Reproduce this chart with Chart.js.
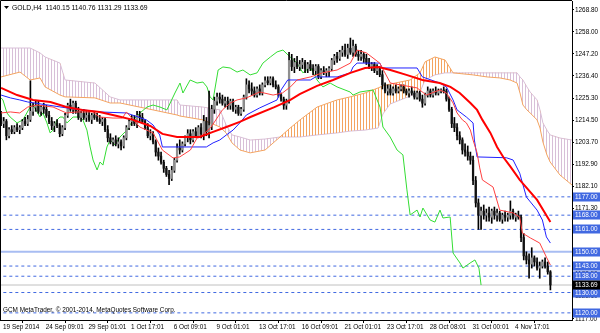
<!DOCTYPE html>
<html><head><meta charset="utf-8">
<script src="https://cdn.jsdelivr.net/npm/chart.js@4/dist/chart.umd.min.js"></script>
<style>html,body{margin:0;padding:0;background:#fff;}#wrap{width:600px;height:333px;position:relative;}</style>
</head><body><div id="wrap"><canvas id="c" width="600" height="333"></canvas></div>
<script>
// ---------- data ----------
const titleText = 'GOLD,H4  1140.15 1140.76 1131.29 1133.69';
const copyrightText = 'GCM MetaTrader, \u00A9 2001-2014, MetaQuotes Software Corp.';
const xTickBars = [0,16,32,48,64,80,96,112,128,144,160,176,192];
const xTickLabels = ['19 Sep 2014','24 Sep 09:01','29 Sep 01:01','1 Oct 17:01','6 Oct 09:01','9 Oct 01:01','13 Oct 17:01','16 Oct 09:01','21 Oct 01:01','23 Oct 17:01','28 Oct 08:01','31 Oct 00:01','4 Nov 17:01'];
const yTickValues = [1268.80,1258.00,1247.20,1236.40,1225.30,1214.50,1203.70,1192.90,1182.10,1171.30,1160.50,1149.70,1138.90,1128.10,1117.00];
const dashedLevels = [1177.00,1168.00,1161.00,1143.00,1138.00,1130.00,1120.00];
const solidLevel = 1150.00;
const lastPrice = 1133.69;

const opens = [1216,1213,1214,1207,1210,1209,1211,1210,1211,1214,1213,
1215,1219,1221,1222,1219,1221,1220,1217,1214,1212,
1213,1212,1208,1211,1217,1222,1220,1223,1219,1216,
1218,1216,1217,1215,1217,1216,1215,1214,1215,1210,
1206,1204,1205,1203,1204,1202,1206,1211,1214,1215,
1213,1217,1216,1214,1211,1207,1208,1204,1199,1197,
1194,1191,1188,1186,1190,1195,1201,1200,1203,1206,
1208,1205,1209,1207,1211,1208,1214,1209,1212,1220,
1224,1226,1225,1223,1224,1222,1224,1220,1221,1218,
1220,1226,1232,1230,1229,1227,1230,1228,1232,1234,
1233,1235,1232,1231,1227,1225,1222,1224,1244,1241,
1243,1241,1242,1243,1240,1242,1240,1239,1241,1236,
1239,1238,1239,1240,1244,1246,1245,1248,1249,1247,
1250,1248,1251,1247,1246,1247,1245,1243,1241,1242,
1239,1240,1237,1232,1229,1230,1228,1230,1229,1230,
1231,1229,1228,1229,1228,1226,1228,1225,1223,1227,
1229,1227,1229,1228,1229,1229.5,1229,1225,1220,1213,
1211,1207,1205,1200,1199,1197,1195,1185,1174,1168,
1170,1168,1169,1167,1170,1168,1169,1166,1168,1167,
1168,1170,1167,1168,1167,1157,1148,1146,1144,1147,
1145,1142,1143,1145,1143,1140.15];
const highs = [1219,1216,1215,1211,1212,1212,1213,1212,1215,1216,1217,
1234,1223,1224,1224,1222,1223,1222,1219,1216,1214,
1215,1213,1212,1218,1223,1225,1224,1224,1221,1219,
1220,1219,1219,1218,1219,1218,1217,1216,1216,1212,
1208,1206,1207,1206,1205,1207,1212,1215,1217,1217,
1219,1219,1218,1215,1213,1210,1209,1205,1201,1199,
1195,1192,1190,1192,1196,1203,1205,1204,1207,1210,
1210,1210,1211,1212,1213,1217,1216,1229,1222,1226,
1228,1228,1227,1226,1226,1225,1225,1222,1222,1221,
1227,1235,1234,1233,1231,1231,1232,1233,1236,1236,
1236,1236,1234,1232,1228,1226,1225,1248,1247,1245,
1246,1244,1245,1244,1243,1244,1242,1242,1242,1240,
1241,1240,1241,1245,1247,1248,1249,1251,1252,1252,
1255,1254,1252,1249,1249,1248,1247,1245,1243,1243,
1242,1241,1239,1233,1232,1232,1231,1232,1231,1232,
1232,1230,1230,1231,1229,1229,1229,1227,1228,1231,
1230,1230,1231,1230,1230,1231,1230,1226,1221,1216,
1213,1209,1206,1203,1202,1199,1197,1187,1176,1172,
1173,1171,1172,1171,1172,1171,1170,1169,1170,1169,
1175,1171,1169,1170,1168,1159,1150,1149,1152,1148,
1147,1145,1146,1147,1145,1140.76];
const lows = [1212,1211,1205,1206,1208,1208,1209,1208,1210,1212,1212,
1214,1217,1219,1218,1217,1218,1216,1213,1210,1209,
1211,1206.5,1207,1210,1216,1219,1218,1218,1215,1214,
1215,1214,1214,1213,1215,1214,1213,1212,1209,1204,
1203,1202,1202,1201,1200,1201,1205,1210,1212,1212,
1211,1214,1213,1210,1206,1205,1203,1197,1195,1193,
1189,1187,1183,1185,1189,1194,1198,1199,1202,1204,
1203,1204,1206,1206,1206,1205,1207,1206,1210,1218,
1222,1223,1222,1221,1220,1220,1219,1218,1217,1217,
1219,1225,1228,1227,1226,1226,1227,1227,1231,1232,
1232,1231,1230,1226,1224,1220,1220,1223,1239,1238,
1240,1239,1240,1238,1238,1239,1237,1237,1235,1235,
1237,1236,1236,1239,1242,1243,1244,1246,1246,1245,
1247,1246,1246,1244,1244,1243,1242,1240,1239,1238,
1237,1236,1230,1228,1227,1227,1227,1228,1228,1229,
1228,1227,1226,1227,1225,1225,1224,1221,1222,1226,
1226,1226,1227,1227,1228,1228,1224,1219,1211,1209,
1205,1203,1198,1197,1195,1193,1183,1172,1161,1161,
1166,1165,1165,1164,1166,1165,1165,1164,1165,1165,
1166,1166,1165,1166,1155,1146,1144,1137,1142,1143,
1141,1137,1142,1142,1139,1131.29];
const closes = [1213,1214,1207,1210,1209,1211,1210,1211,1214,1213,1215,
1219,1221,1222,1219,1221,1220,1217,1214,1212,1213,
1212,1208,1211,1217,1222,1220,1223,1219,1216,1218,
1216,1217,1215,1217,1216,1215,1214,1215,1210,1206,
1204,1205,1203,1204,1202,1206,1211,1214,1215,1213,
1217,1216,1214,1211,1207,1208,1204,1199,1197,1194,
1191,1188,1186,1190,1195,1201,1200,1203,1206,1208,
1205,1209,1207,1211,1208,1214,1209,1212,1220,1224,
1226,1225,1223,1224,1222,1224,1220,1221,1218,1220,
1226,1232,1230,1229,1227,1230,1228,1232,1234,1233,
1235,1232,1231,1227,1225,1222,1224,1244,1241,1243,
1241,1242,1243,1240,1242,1240,1239,1241,1236,1239,
1238,1239,1240,1244,1246,1245,1248,1249,1247,1250,
1248,1251,1247,1246,1247,1245,1243,1241,1242,1239,
1240,1237,1232,1229,1230,1228,1230,1229,1230,1231,
1229,1228,1229,1228,1226,1228,1225,1223,1227,1229,
1227,1229,1228,1229,1229.5,1229,1225,1220,1213,1211,
1207,1205,1200,1199,1197,1195,1185,1174,1168,1170,
1168,1169,1167,1170,1168,1169,1166,1168,1167,1168,
1170,1167,1168,1167,1157,1148,1146,1144,1147,1145,
1142,1143,1145,1143,1140.15,1133.69];

// moving average (thick red)
const maBars = [0,6,12,18.5,24.5,30.5,37,43.5,49.5,56,60.5,66,74.5,79.5,84.5,89.5,93.5,102.5,108.5,112,118.5,124.5,131,136.5,141.5,146,152,158,164.5,168.5,172,176,178.5,180.5,183.5,186,188.5,191,194.5,201,206];
const maValues = [1230.5,1227.0,1224.6,1223.6,1221.1,1219.7,1218.7,1216.7,1214.8,1211.8,1207.9,1206.4,1206.4,1208.9,1211.3,1213.8,1216.2,1221.1,1224.6,1227.5,1231.5,1234.4,1237.9,1240.3,1240.8,1239.3,1236.9,1234.4,1232.9,1231.0,1228.0,1223.1,1219.7,1214.8,1208.4,1201.5,1196.2,1191.8,1185.3,1175.5,1164.6];
// Ichimoku: Tenkan-sen (thin red)
const tenkanBars = [0,3.5,7,10,13.5,19.5,24.5,28.5,34.5,37,42,45.5,47,52,57,60.5,64.5,67,71,73.5,75.5,78.5,81,83,86,88.5,92,97,102,105.5,108.5,111,116,120.5,126,131,133.5,137,142,146,156,159.5,164.5,167,169.5,171,173,174.5,176,177,178.5,179.5,180.5,184.5,187,192,194.5,195.5,198.5,202,204.5,206];
const tenkanValues = [1218.2,1218.7,1218.2,1221.1,1222.1,1221.1,1218.2,1218.7,1218.7,1216.2,1215.7,1215.7,1218.7,1211.3,1208.4,1200.0,1196.1,1196.6,1200.0,1205.9,1207.4,1210.8,1215.7,1219.7,1223.1,1224.6,1225.6,1228.5,1227.0,1228.0,1231.0,1234.4,1235.9,1237.9,1239.3,1242.7,1249.1,1247.7,1242.7,1232.9,1230.5,1227.0,1229.5,1228.0,1223.1,1218.2,1214.8,1213.3,1209.8,1204.9,1198.6,1191.2,1185.3,1181.8,1170.5,1169.1,1167.1,1159.2,1156.8,1154.3,1147.4,1143.5];
// Ichimoku: Kijun-sen (blue)
const kijunBars = [0,3.5,7,10,24.5,37,47,54.5,57,59.5,60.5,77,79.5,82,84.5,87,89.5,92,97,103.5,105,107.5,116,118,126,131,132,133.5,142,143,156,158,164.5,167,169.5,171,172,174.5,177,177.5,178.5,189.5,192,194.5,197,201,203,204.5,206];
const kijunValues = [1227.0,1225.6,1224.6,1223.6,1220.7,1218.7,1218.2,1214.8,1212.3,1207.4,1201.5,1201.5,1203.5,1204.9,1207.4,1209.8,1213.3,1217.2,1220.7,1224.6,1229.5,1234.4,1234.4,1235.9,1235.9,1237.9,1240.8,1242.7,1242.7,1240.3,1240.3,1235.9,1232.9,1231.0,1224.6,1219.7,1218.7,1216.2,1213.3,1204.9,1196.6,1196.2,1195.1,1188.6,1176.9,1170.5,1165.6,1157.3,1154.3];
// Ichimoku: Chikou span (green)
const chikouBars = [0,0.7,2.2,3.4,6,8.2,10.9,12,14.6,15.7,17.2,18.4,19.5,21,22.1,23.2,24.7,27,29.6,30.7,32.2,33.4,34.5,36,37.1,38.2,39.7,40.9,42.7,44.6,47.2,49.5,52.1,54.7,57,59.6,62.2,65.2,67.1,68.2,70.9,73.5,75.7,77.2,78.4,79.5,81.4,83.2,85.9,88.5,90.7,93.4,96,98.2,101,103.5,105.7,108.4,111,113.2,115.9,118.5,120.7,123.4,126,130.9,132,134.6,139.5,142.1,143.2,145.9,148.5,150.7,152.2,153.4,156,157.1,158.2,160.9,162.7,164.6,165.7,168.4,169.5,172.1,173.2,175.9,177.7,179.2,180];
const chikouValues = [1225.6,1224.6,1218.2,1216.2,1213.3,1214.8,1221.1,1222.1,1216.2,1218.2,1213.3,1208.4,1209.8,1214.8,1216.2,1216.2,1213.3,1216.2,1216.2,1214.8,1209.8,1201.5,1195.1,1190.2,1194.1,1192.6,1201.5,1204.9,1202.5,1206.4,1209.8,1214.8,1218.2,1221.1,1222.1,1221.1,1219.7,1228.0,1232.9,1228.0,1234.4,1232.9,1233.4,1231.0,1226.1,1224.6,1239.3,1240.8,1240.3,1238.3,1239.3,1236.9,1237.9,1242.7,1245.7,1248.2,1249.1,1245.7,1242.7,1237.9,1240.8,1234.4,1231.0,1232.9,1231.0,1228.5,1227.0,1228.5,1229.5,1221.1,1211.3,1206.4,1200.0,1197.6,1180.4,1168.1,1170.5,1167.1,1171.5,1165.6,1164.6,1170.5,1166.6,1167.1,1149.4,1144.5,1142.0,1144.5,1146.0,1142.0,1133.69];
// Ichimoku cloud: Senkou span A / B
const cloudBars = [0,7.1,10.9,14.6,16.5,22.1,24,35.2,40.9,44.6,57,66,67.1,75.7,82.1,84.4,86.6,89.6,93.4,99,104.6,108.4,112.1,118.5,126,130.9,136.5,141.4,143.2,145.9,153.4,157.1,159,162.7,166.5,169.5,177,182.2,187.1,190.9,193.5,194.6,195.7,197.2,198.4,201,202.1,203.2,204.7,205.9,209.6,214.1];
const spanA = [1235.9,1238.3,1234.4,1235.4,1231.0,1227.0,1226.1,1225.6,1223.1,1223.1,1219.7,1217.2,1216.7,1214.8,1211.3,1208.4,1203.5,1200.0,1198.6,1200.0,1206.4,1210.8,1214.8,1221.1,1224.6,1226.1,1228.0,1230.5,1231.5,1232.4,1234.4,1237.9,1243.3,1245.7,1244.2,1237.9,1236.9,1235.9,1235.4,1234.4,1232.9,1228.0,1222.1,1219.7,1218.2,1214.8,1210.8,1203.9,1197.6,1194.1,1187.7,1182.8];
const spanB = [1250.1,1250.1,1250.1,1247.7,1245.7,1242.7,1234.4,1232.9,1226.1,1224.6,1224.6,1224.6,1222.1,1221.1,1219.7,1212.3,1207.4,1206.4,1204.9,1205.4,1206.4,1206.4,1206.4,1207.4,1208.4,1209.3,1209.8,1210.8,1217.7,1222.6,1226.5,1228.5,1234.4,1236.9,1237.9,1237.9,1237.9,1237.9,1237.9,1237.9,1237.9,1235.9,1234.4,1231.0,1228.5,1224.6,1219.7,1213.3,1209.8,1207.4,1205.9,1204.9];

// ---------- chart ----------
const FONT = '"Liberation Sans", Arial, sans-serif';
const FSIZE = 6.4;
const canvas = document.getElementById('c');
const ctx = canvas.getContext('2d');

function hatch(color){
  const c = document.createElement('canvas'); c.width = 3; c.height = 4;
  const g = c.getContext('2d'); g.fillStyle = color; g.fillRect(0,0,1,4);
  return ctx.createPattern(c,'repeat');
}
const pts = (xs, ys) => xs.map((x,i)=>({x:x, y:ys[i]}));
const XMIN = -0.4, XMAX = 214.1;

const wickData = highs.map((h,i)=>({x:i, y:[lows[i], h]}));
const bodyData = opens.map((o,i)=>({x:i, y:[Math.min(o,closes[i]), Math.max(o,closes[i]) + (o===closes[i]?0.3:0)]}));
const bodyColors = opens.map((o,i)=> closes[i] > o ? '#8f8f8f' : '#111111');

const lvlDS = (v, color, width, dash, order) => ({type:'line', data:[{x:XMIN-1,y:v},{x:XMAX+1,y:v}], borderColor:color, borderWidth:width, borderDash:dash, pointRadius:0, fill:false, order:order});

const datasets = [
  {type:'line', label:'spanB', data:pts(cloudBars, spanB), borderColor:'#D8BFD8', borderWidth:1, pointRadius:0, fill:false, order:20},
  {type:'line', label:'spanA', data:pts(cloudBars, spanA), borderColor:'#F4A460', borderWidth:1, pointRadius:0,
    fill:{target:0, above:hatch('#F4A460'), below:hatch('#D8BFD8')}, order:19},
  ...dashedLevels.map(v=>lvlDS(v,'#4169E1',1,[3,3],15)),
  lvlDS(solidLevel,'#A8BDF2',2,[],15),
  lvlDS(lastPrice,'#C0C0C0',1,[],15),
  {type:'line', label:'chikou', data:pts(chikouBars, chikouValues), borderColor:'#33DD33', borderWidth:1, pointRadius:0, fill:false, order:12},
  {type:'bar', label:'wicks', data:wickData, backgroundColor:'#000', barThickness:1, grouped:false, order:10},
  {type:'bar', label:'bodies', data:bodyData, backgroundColor:bodyColors, barThickness:1.6, grouped:false, order:9},
  {type:'line', label:'kijun', data:pts(kijunBars, kijunValues), borderColor:'#2020FF', borderWidth:1, pointRadius:0, fill:false, order:5},
  {type:'line', label:'tenkan', data:pts(tenkanBars, tenkanValues), borderColor:'#FF4040', borderWidth:1, pointRadius:0, fill:false, order:4},
  {type:'line', label:'ma', data:pts(maBars, maValues), borderColor:'#FF0000', borderWidth:2, pointRadius:0, fill:false, order:3}
];

const decor = {
  id:'decor',
  afterDraw(chart){
    const c = chart.ctx, a = chart.chartArea, y = chart.scales.y;
    c.save();
    c.strokeStyle = '#000'; c.lineWidth = 1;
    c.beginPath(); c.moveTo(0.5, a.bottom); c.lineTo(0.5, 0.5); c.lineTo(a.right, 0.5); c.stroke();
    c.fillStyle = '#000'; c.textBaseline = 'middle'; c.textAlign = 'left';
    c.beginPath(); c.moveTo(4,6); c.lineTo(9,6); c.lineTo(6.5,9); c.closePath(); c.fill();
    c.font = '6.8px ' + FONT;
    c.fillText(titleText, 12, 8);
    c.font = FSIZE + 'px ' + FONT;
    c.fillText(copyrightText, 3, 310.5);
    const tag = (v, bg) => {
      const py = Math.round(y.getPixelForValue(v));
      c.fillStyle = bg; c.fillRect(a.right + 1, py - 4.5, 600 - a.right - 1, 9);
      c.fillStyle = '#fff'; c.fillText(v.toFixed(2), a.right + 3, py + 0.5);
    };
    dashedLevels.forEach(v=>tag(v,'#4169E1'));
    tag(solidLevel,'#4169E1');
    tag(lastPrice,'#000');
    c.restore();
  }
};

new Chart(ctx, {
  type:'bar',
  data:{datasets},
  plugins:[decor],
  options:{
    responsive:false, animation:false, devicePixelRatio:1,
    layout:{padding:{top:1,left:0,right:0,bottom:0}},
    plugins:{legend:{display:false}, tooltip:{enabled:false}, filler:{propagate:false}},
    scales:{
      x:{type:'linear', min:XMIN, max:XMAX, offset:false,
        afterBuildTicks:s=>{ s.ticks = xTickBars.map(v=>({value:v})); },
        afterFit:s=>{ s.height = 13; s.paddingLeft = 0; s.paddingRight = 0; },
        grid:{display:true, drawOnChartArea:false, drawTicks:true, tickLength:3, color:'#000', lineWidth:1},
        border:{display:true, color:'#000', width:1},
        ticks:{autoSkip:false, maxRotation:0, minRotation:0, align:'start', padding:0, labelOffset:2, color:'#000',
          font:{family:FONT, size:FSIZE},
          callback:(v)=>{ const k = xTickBars.indexOf(v); return k>=0 ? xTickLabels[k] : ''; }}
      },
      y:{type:'linear', position:'right', min:1116.5, max:1273.2,
        afterBuildTicks:s=>{ s.ticks = yTickValues.map(v=>({value:v})); },
        afterFit:s=>{ s.width = 28; s.paddingTop = 0; s.paddingBottom = 0; },
        grid:{display:true, drawOnChartArea:false, drawTicks:true, tickLength:2, color:'#000', lineWidth:1},
        border:{display:true, color:'#000', width:1},
        ticks:{padding:1, color:'#000', font:{family:FONT, size:FSIZE},
          callback:(v)=>Number(v).toFixed(2)}
      }
    }
  }
});
</script>
</body></html>
